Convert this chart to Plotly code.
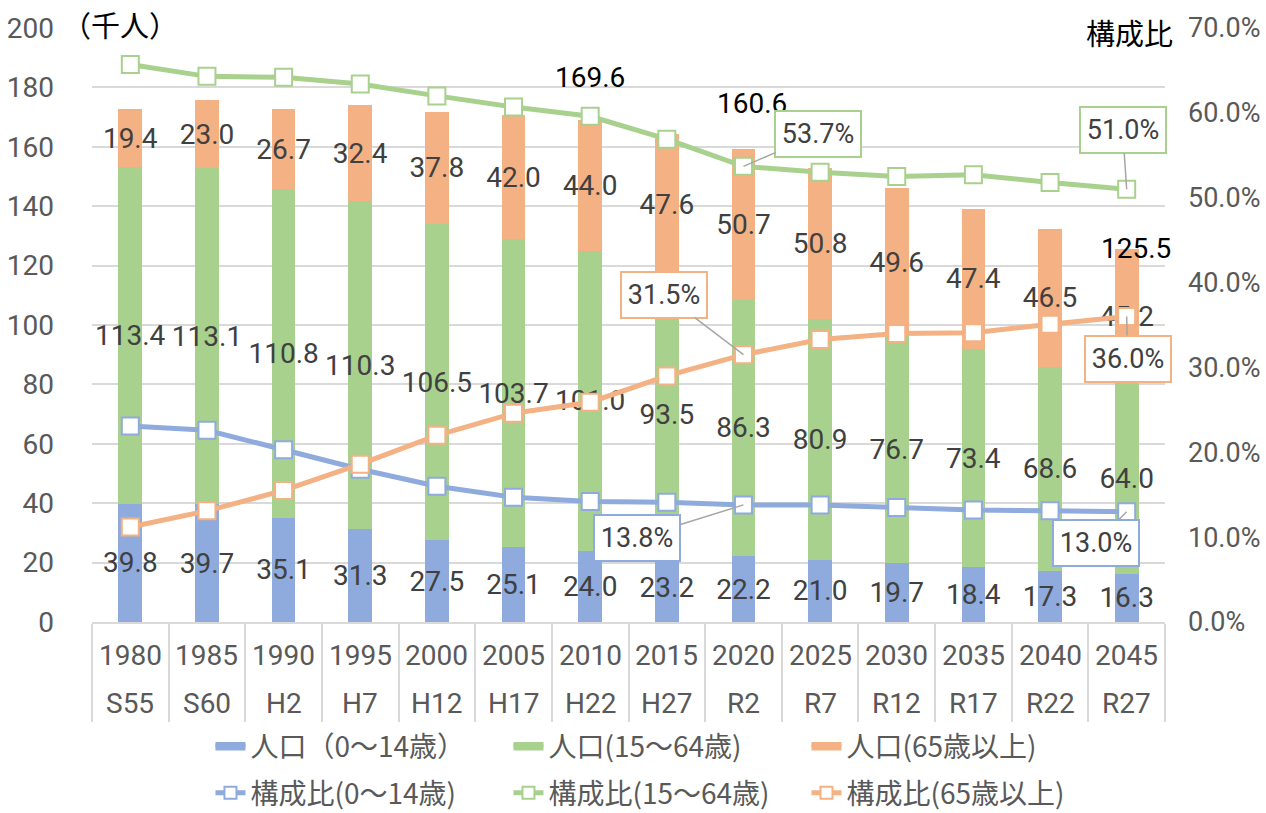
import plotly.graph_objects as go

# ---------------- data ----------------
years = ["1980", "1985", "1990", "1995", "2000", "2005", "2010",
         "2015", "2020", "2025", "2030", "2035", "2040", "2045"]
eras = ["S55", "S60", "H2", "H7", "H12", "H17", "H22",
        "H27", "R2", "R7", "R12", "R17", "R22", "R27"]

pop_0_14 = [39.8, 39.7, 35.1, 31.3, 27.5, 25.1, 24.0, 23.2, 22.2, 21.0, 19.7, 18.4, 17.3, 16.3]
pop_15_64 = [113.4, 113.1, 110.8, 110.3, 106.5, 103.7, 101.0, 93.5, 86.3, 80.9, 76.7, 73.4, 68.6, 64.0]
pop_65 = [19.4, 23.0, 26.7, 32.4, 37.8, 42.0, 44.0, 47.6, 50.7, 50.8, 49.6, 47.4, 46.5, 45.2]

ratio_0_14 = [23.1, 22.6, 20.3, 18.0, 16.0, 14.7, 14.2, 14.1, 13.8, 13.8, 13.5, 13.2, 13.1, 13.0]
ratio_15_64 = [65.7, 64.3, 64.2, 63.4, 62.0, 60.7, 59.6, 56.9, 53.7, 53.0, 52.5, 52.7, 51.8, 51.0]
ratio_65 = [11.2, 13.1, 15.5, 18.6, 22.0, 24.6, 25.9, 29.0, 31.5, 33.3, 34.0, 34.1, 35.1, 36.0]

total_years = ["2010", "2020", "2045"]
total_values = [169.6, 160.6, 125.5]

names_bar = ["人口（0～14歳）", "人口(15～64歳)", "人口(65歳以上)"]
names_line = ["構成比(0～14歳)", "構成比(15～64歳)", "構成比(65歳以上)"]

# ---------------- style ----------------
BLUE = "#8faadc"
GREEN = "#a9d18e"
ORANGE = "#f4b183"
GRID = "#d9d9d9"
TXT = "#404040"
TICK = "#595959"
NUM = "Roboto, Liberation Sans, sans-serif"
CJK = "Noto Sans CJK JP, sans-serif"
FS = 28
n = len(years)

fig = go.Figure()
for vals, name, col in zip([pop_0_14, pop_15_64, pop_65], names_bar, [BLUE, GREEN, ORANGE]):
    fig.add_trace(go.Bar(
        x=years, y=vals, name=name, marker=dict(color=col, line=dict(width=0)),
        text=[f"{v:.1f}" for v in vals], textposition="inside",
        insidetextanchor="middle", textangle=0, constraintext="none",
        textfont=dict(family=NUM, size=FS, color=TXT), cliponaxis=False,
        showlegend=False, hoverinfo="skip"))

# legend swatches for the bar series (wide rectangles like the original)
for name, col in zip(names_bar, [BLUE, GREEN, ORANGE]):
    fig.add_trace(go.Scatter(
        x=[None], y=[None], name=name, mode="lines", fill="toself", fillcolor=col,
        line=dict(color=col, width=5),
        legend="legend", showlegend=True, hoverinfo="skip"))

for vals, name, col in zip([ratio_0_14, ratio_15_64, ratio_65], names_line, [BLUE, GREEN, ORANGE]):
    fig.add_trace(go.Scatter(
        x=years, y=vals, name=name, yaxis="y2", mode="lines+markers",
        line=dict(color=col, width=5),
        marker=dict(symbol="square", size=17, color="white", line=dict(color=col, width=2)),
        legend="legend2", cliponaxis=False, hoverinfo="skip"))

annotations = []
# two-row category labels under the axis
for i, (yr, era) in enumerate(zip(years, eras)):
    annotations.append(dict(x=i, y=0, xref="x", yref="paper", yanchor="middle", yshift=-33,
                            text=yr, showarrow=False, font=dict(family=NUM, size=FS, color=TICK)))
    annotations.append(dict(x=i, y=0, xref="x", yref="paper", yanchor="middle", yshift=-81,
                            text=era, showarrow=False, font=dict(family=NUM, size=FS, color=TICK)))

# totals
total_shift = {"2010": (0, 41), "2020": (9, 42), "2045": (9, 1)}
for yr, v in zip(total_years, total_values):
    dx, dy = total_shift[yr]
    annotations.append(dict(x=years.index(yr), y=v, xref="x", yref="y", text=f"{v:.1f}",
                            showarrow=False, xshift=dx, yshift=dy,
                            font=dict(family=NUM, size=FS, color="#000000")))

# callouts
callouts = [
    ("2020", ratio_15_64, GREEN, 75, -32),
    ("2045", ratio_15_64, GREEN, -4, -59),
    ("2020", ratio_65, ORANGE, -79, -60),
    ("2045", ratio_65, ORANGE, 1, 42),
    ("2020", ratio_0_14, BLUE, -106, 33),
    ("2045", ratio_0_14, BLUE, -31, 31),
]
for yr, arr, col, ax, ay in callouts:
    i = years.index(yr)
    v = arr[i]
    annotations.append(dict(
        x=i, y=v, xref="x", yref="y2", text=f"{v:.1f}%", showarrow=True,
        arrowhead=0, arrowwidth=1.5, arrowcolor="#a6a6a6", ax=ax, ay=ay, standoff=0,
        bordercolor=col, borderwidth=2, borderpad=3, bgcolor="white",
        width=78, height=38,
        font=dict(family=NUM, size=27, color=TXT)))

annotations.append(dict(x=-0.030, y=1.0, xref="paper", yref="paper", xanchor="left", yanchor="middle",
                        yshift=4, text="（千人）", showarrow=False,
                        font=dict(family=CJK, size=29, color="#000000")))
annotations.append(dict(x=1.0093, y=0.9925, xref="paper", yref="paper", xanchor="right", yanchor="middle",
                        text="構成比", showarrow=False, font=dict(family=CJK, size=29, color="#000000")))

legend_common = dict(orientation="h", xanchor="center", yanchor="top",
                     font=dict(family=CJK, size=28, color=TICK),
                     entrywidth=253, entrywidthmode="pixels", traceorder="normal",
                     itemsizing="constant", bgcolor="rgba(0,0,0,0)")

fig.update_layout(
    width=1266, height=813,
    margin=dict(l=92, r=101, t=28, b=191, autoexpand=False),
    paper_bgcolor="white", plot_bgcolor="white",
    barmode="stack", bargap=0.69,
    showlegend=True,
    legend=dict(x=0.527, y=-0.168, **legend_common),
    legend2=dict(x=0.527, y=-0.246, **legend_common),
    # category axis: its boundary ticks draw the dividers below the plot
    xaxis=dict(type="category", range=[-0.5, n - 0.5], showgrid=False,
               showline=True, linecolor=GRID, linewidth=1.5,
               ticks="outside", tickson="boundaries", ticklen=98, tickwidth=1.5, tickcolor=GRID,
               showticklabels=False, automargin=False),
    yaxis=dict(range=[0, 200], dtick=20, showgrid=True, gridcolor=GRID, gridwidth=1.5,
               zeroline=False, showline=False, ticks="", ticklabelstandoff=37,
               automargin=False,
               tickfont=dict(family=NUM, size=FS, color=TICK)),
    yaxis2=dict(range=[0, 70], dtick=10, overlaying="y", side="right", showgrid=False,
                zeroline=False, showline=False, ticks="", ticksuffix="%", tickformat=".1f",
                ticklabelstandoff=22, automargin=False,
                tickfont=dict(family=NUM, size=27, color=TICK)),
    annotations=annotations,
)

fig.write_html("out.html", config={"displayModeBar": False},
               post_script="document.body.style.margin='0';")
